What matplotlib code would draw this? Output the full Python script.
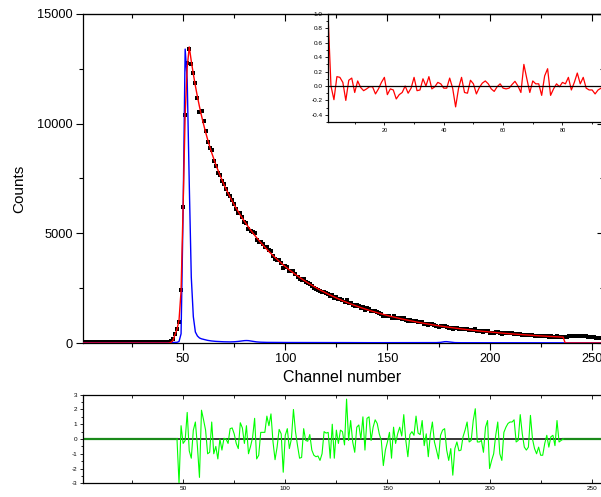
import matplotlib.pyplot as plt
from matplotlib.ticker import MultipleLocator, FormatStrFormatter

plt.rcParams['font.family'] = ['Liberation Sans', 'DejaVu Sans']
plt.rcParams['axes.unicode_minus'] = False

# decay histogram, one value per channel
channels = list(range(1, 257))

counts = [
    32, 41, 28, 37, 45, 30, 36, 27, 40, 34,
    29, 43, 35, 31, 38, 26, 42, 33, 37, 30,
    44, 29, 36, 39, 31, 27, 41, 35, 33, 46,
    30, 38, 28, 40, 34, 37, 43, 31, 36, 45,
    39, 48,
    58, 88, 175, 420, 620, 950, 2424, 6196, 10400, 12752,
    13407, 12706, 12332, 11851, 11180, 10510, 10560, 10104, 9672, 9182,
    8879, 8777, 8302, 8088, 7767, 7655, 7369, 7227, 7022, 6806,
    6704, 6532, 6331, 6118, 5934, 5918, 5744, 5526, 5480, 5210,
    5120, 5040, 5011, 4705, 4611, 4608, 4501, 4399, 4370, 4232,
    4187, 3974, 3811, 3777, 3766, 3664, 3427, 3500, 3450, 3297,
    3263, 3303, 3150, 3031, 2919, 2860, 2903, 2800, 2738, 2705,
    2595, 2521, 2464, 2415, 2349, 2322, 2346, 2294, 2249, 2122,
    2184, 2035, 2080, 1998, 1996, 1953, 1875, 1971, 1814, 1835,
    1739, 1676, 1712, 1685, 1613, 1642, 1523, 1576, 1551, 1459,
    1465, 1456, 1419, 1366, 1324, 1237, 1250, 1246, 1246, 1161,
    1211, 1152, 1152, 1144, 1109, 1131, 1054, 1000, 1029, 1013,
    991, 1010, 956, 939, 948, 880, 887, 826, 856, 863,
    809, 779, 747, 778, 775, 763, 711, 679, 687, 628,
    663, 662, 634, 625, 636, 636, 639, 594, 586, 608,
    617, 553, 543, 536, 508, 537, 539, 457, 460, 462,
    481, 492, 438, 421, 452, 452, 450, 443, 436, 431,
    395, 390, 418, 385, 362, 351, 350, 383, 347, 329,
    317, 319, 304, 299, 307, 311, 294, 300, 296, 279,
    303, 274, 271, 268,
    272, 289, 306, 322, 334, 341, 336, 331, 318, 312,
    298, 292, 279, 266, 257, 244, 236, 223, 216, 204,
]

fit_curve = [0] * 43 + [
    30, 110, 380, 620, 1045, 2380, 6220, 10410, 12550,
    13500, 12853, 12265, 11727, 11233, 10780, 10361, 9974, 9613, 9278,
    8964, 8670, 8394, 8133, 7887, 7655, 7433, 7223, 7022, 6831,
    6647, 6472, 6303, 6141, 5984, 5834, 5688, 5548, 5413, 5283,
    5156, 5033, 4913, 4798, 4686, 4577, 4471, 4369, 4269, 4173,
    4078, 3987, 3898, 3811, 3726, 3643, 3562, 3485, 3409, 3335,
    3263, 3191, 3122, 3056, 2990, 2927, 2865, 2805, 2746, 2689,
    2633, 2577, 2524, 2472, 2420, 2371, 2322, 2275, 2228, 2183,
    2138, 2095, 2053, 2011, 1970, 1931, 1893, 1855, 1818, 1782,
    1747, 1713, 1679, 1646, 1613, 1582, 1552, 1521, 1492, 1463,
    1435, 1407, 1380, 1353, 1328, 1302, 1277, 1253, 1230, 1206,
    1184, 1162, 1140, 1118, 1097, 1077, 1057, 1038, 1018, 999,
    980, 962, 945, 928, 910, 893, 877, 861, 846, 830,
    815, 800, 785, 771, 758, 744, 731, 718, 705, 692,
    680, 667, 655, 644, 632, 621, 610, 599, 588, 578,
    568, 558, 548, 538, 529, 519, 510, 501, 492, 484,
    475, 467, 459, 451, 443, 435, 428, 420, 413, 405,
    399, 392, 385, 378, 372, 365, 360, 353, 347, 341,
    335, 329, 324, 319, 312, 307, 303, 297, 292, 287,
    282, 277, 273, 268,
] + [0] * 20

# instrument response (prompt)
irf = [
    8, 5, 10, 6, 12, 7, 4, 9, 11, 6,
    8, 5, 10, 7, 9, 6, 12, 8, 5, 7,
    10, 6, 9, 11, 7, 5, 8, 10, 6, 9,
    7, 12, 8, 6, 10, 7, 9, 5, 11, 8,
    7, 10, 9, 12, 15, 22,
    30, 70, 420, 6000, 13400, 12000, 7300, 3000, 1200, 500,
    320, 230, 190, 165, 140, 120, 105, 92, 82, 74,
    68, 62, 58, 55, 52, 50, 50, 52, 56, 62,
    72, 85, 98, 108, 112, 108, 95, 78, 62, 50,
    42, 36, 32, 30, 28, 27, 26, 25, 25, 24,
    24, 23, 24, 22, 23, 22, 22, 21, 22, 21,
    21, 20, 21, 20, 20, 21, 19, 20, 19, 20,
    19, 19, 18, 19, 18, 19, 18, 18, 17, 18,
    17, 18, 17, 17, 18, 16, 17, 17, 16, 17,
    16, 16, 17, 16, 15, 16, 16, 15, 16, 15,
    15, 16, 15, 15, 14, 15, 15, 14, 15, 14,
    14, 15, 14, 14, 13, 14, 14, 13, 14, 13,
    13, 14, 13, 13, 14, 15, 16, 18, 22,
    30, 45, 60, 62, 50, 35, 24,
    18, 15, 14, 13, 13, 12, 13, 12, 12, 13,
    12, 11, 12, 12, 11, 12, 11, 11, 12, 11,
    11, 10, 11, 11, 10, 11, 10, 10, 11, 10,
    10, 11, 10, 10, 9, 10, 10, 9, 10, 9,
    9, 10, 9, 9, 10, 9, 9, 8, 9, 9,
    8, 9, 9, 8, 9, 8, 8, 9, 8, 8,
    8, 9, 8, 8, 7, 8, 8, 7, 8, 7,
    7, 8, 7, 7,
]

# weighted residuals over the fit range
res_channels = list(range(47, 237))
residuals = [
    0.0, -3.0, 0.9, -0.3, -0.1, 1.8, -0.8, -1.3, 0.6, 1.15,
    -0.5, -2.6, 1.95, 1.3, 0.6, -1.0, -0.9, 1.15, -1.0, -0.5,
    -1.35, 0.0, -0.75, 0.05, 0.0, -0.3, 0.7, 0.75, 0.35, -0.3,
    -0.65, 1.1, 0.75, -0.3, 0.9, -1.0, -0.5, 0.1, 1.4, -1.35,
    -1.1, 0.45, 0.45, 0.45, 1.55, 0.9, 1.7, -0.2, -1.4, -0.55,
    0.65, 0.35, -2.25, 0.25, 0.7, -0.65, 0.0, 2.0, 0.5, -0.45,
    -1.3, -1.25, 0.7, -0.1, -0.15, 0.3, -0.75, -1.1, -1.2, -1.15,
    -1.45, -1.0, 0.5, 0.4, 0.45, -1.3, 1.0, -1.3, 0.6, -0.3,
    0.6, 0.5, -0.4, 2.7, -0.1, 1.25, -0.2, -0.9, 0.8, 0.95,
    0.0, 1.5, -0.75, 1.4, 1.5, -0.1, 0.8, 1.3, 1.05, 0.35,
    -0.1, -1.8, -0.75, -0.2, 0.45, -1.3, 0.8, -0.3, 0.35, 0.8,
    0.2, 1.65, -0.1, -1.2, 0.3, 0.5, 0.25, 1.55, 0.4, 0.3,
    1.25, -0.45, 0.35, -1.2, 0.3, 1.15, -0.2, -0.75, -1.35, 0.25,
    0.6, 0.7, -0.75, -1.45, -0.65, -2.45, -0.65, -0.2, -0.8, -0.75,
    0.15, 0.6, 1.15, -0.2, -0.1, 1.25, 2.05, -0.2, -0.2, -0.1,
    -0.9, 0.8, 1.25, -2.0, -1.45, -1.0, 0.25, 1.15, -1.0, -1.45,
    0.45, 0.8, 1.05, 1.15, 1.15, 1.3, -0.2, -0.1, 1.65, 0.35,
    -0.55, -0.75, -0.55, 1.6, 0.0, -0.65, -1.0, -0.55, -1.1, -1.1,
    -0.3, 0.25, -0.55, 0.15, 0.25, -0.45, 1.25, -0.2, -0.1, 0.0,
]

# autocorrelation of the residuals
lag = list(range(1, 94))
autocorr = [
    1.0, 0.0, -0.19, 0.13, 0.12, 0.05, -0.2, 0.08, 0.11, -0.09,
    0.07, -0.02, -0.065, -0.04, -0.01, -0.01, -0.11, -0.04, 0.05, 0.12,
    -0.12, -0.04, -0.055, -0.18, -0.12, -0.09, 0.0, -0.1, -0.03, 0.12,
    -0.065, -0.055, 0.1, 0.0, 0.13, -0.04, -0.01, 0.05, 0.03, -0.03,
    -0.03, 0.11, -0.03, -0.29, -0.03, 0.12, -0.09, -0.1, 0.08, 0.03,
    -0.11, -0.02, 0.04, 0.07, 0.03, -0.04, -0.075, -0.01, 0.03, -0.03,
    -0.04, -0.03, 0.02, 0.065, 0.0, -0.09, 0.30, 0.1, -0.09, 0.07,
    0.03, 0.03, -0.13, 0.14, 0.24, -0.13, -0.04, 0.03, -0.01, 0.05,
    0.03, 0.12, -0.055, 0.05, 0.18, 0.03, 0.12, -0.03, -0.055, -0.055,
    -0.11, -0.055, -0.03,
]

W, H = 601, 497


def box(left, top, right, bottom):
    return [left / W, 1 - bottom / H, (right - left) / W, (bottom - top) / H]


fig = plt.figure(figsize=(W / 100, H / 100), dpi=100)
ax = fig.add_axes(box(83, 14, 604, 343))
ins = fig.add_axes(box(328, 14, 604, 122))
res = fig.add_axes(box(83, 394.7, 604, 483.3))

# main axes sit above the inset so their ticks show through
ax.set_zorder(3)
ax.patch.set_visible(False)
ins.set_zorder(2)

# --- decay curve ---
ax.plot(channels, counts, 's', color='black', ms=2.2, mew=0, zorder=2)
ax.plot(channels, irf, color='blue', lw=1.0, zorder=3)
ax.plot(channels, fit_curve, color='red', lw=1.0, zorder=4)
ax.set_xlim(1, 256)
ax.set_ylim(0, 15000)
ax.set_xticks([50, 100, 150, 200, 250])
ax.set_yticks([0, 5000, 10000, 15000])
ax.xaxis.set_minor_locator(MultipleLocator(25))
ax.yaxis.set_minor_locator(MultipleLocator(2500))
ax.tick_params(which='major', direction='out', length=5, width=0.8,
               labelsize=9.2, pad=2.5)
ax.tick_params(which='minor', direction='out', length=3, width=0.8)
for s in ax.spines.values():
    s.set_linewidth(0.9)

top = ax.secondary_xaxis('top')
top.set_xticks([50, 100, 150, 200, 250])
top.xaxis.set_minor_locator(MultipleLocator(25))
top.tick_params(which='major', direction='in', length=5, width=0.8,
                labeltop=False)
top.tick_params(which='minor', direction='in', length=3, width=0.8)
right = ax.secondary_yaxis('right')
right.set_yticks([0, 5000, 10000, 15000])
right.yaxis.set_minor_locator(MultipleLocator(2500))
right.tick_params(which='major', direction='in', length=5, width=0.8,
                  labelright=False)
right.tick_params(which='minor', direction='in', length=3, width=0.8)

fig.text(19 / W, 1 - 189 / H, 'Counts', rotation=90, fontsize=11,
         ha='center', va='center')
fig.text(342.5 / W, 1 - 377 / H, 'Channel number', fontsize=11.5,
         ha='center', va='center')

# --- autocorrelation inset ---
ins.plot(lag, autocorr, color='red', lw=0.9)
ins.axhline(0, color='black', lw=0.9)
ins.set_xlim(1, 94)
ins.set_ylim(-0.5, 1.0)
ins.set_xticks([20, 40, 60, 80])
ins.set_yticks([-0.4, -0.2, 0.0, 0.2, 0.4, 0.6, 0.8, 1.0])
ins.xaxis.set_minor_locator(MultipleLocator(10))
ins.yaxis.set_minor_locator(MultipleLocator(0.1))
ins.yaxis.set_major_formatter(FormatStrFormatter('%.1f'))
ins.tick_params(axis='y', which='major', direction='out', length=2.5,
                width=0.6, labelsize=4.6, pad=1.5)
ins.tick_params(axis='x', which='major', direction='out', length=2.5,
                width=0.6, labelsize=4.0, pad=1.5)
ins.tick_params(which='minor', direction='out', length=1.5, width=0.6)
for s in ins.spines.values():
    s.set_linewidth(0.9)

# --- residuals ---
res.axhline(0, color='black', lw=1.1, zorder=1)
res.plot([1, 47], [0, 0], color='#1a8a1a', lw=1.6, zorder=2)
res.plot([236, 256], [0, 0], color='#1a8a1a', lw=1.6, zorder=2)
res.plot(res_channels, residuals, color='#00ff00', lw=0.8, zorder=3)
res.set_xlim(1, 256)
res.set_ylim(-3, 3)
res.set_xticks([50, 100, 150, 200, 250])
res.set_yticks([-3, -2, -1, 0, 1, 2, 3])
res.xaxis.set_minor_locator(MultipleLocator(25))
res.yaxis.set_minor_locator(MultipleLocator(0.5))
res.tick_params(axis='x', which='both', direction='in', top=True,
                labelsize=4.6, pad=2)
res.tick_params(axis='x', which='major', length=3, width=0.6)
res.tick_params(axis='x', which='minor', length=2, width=0.6)
res.tick_params(axis='y', which='major', direction='out', length=2.5,
                width=0.6, labelsize=4.6, pad=1.5)
res.tick_params(axis='y', which='minor', direction='out', length=1.5,
                width=0.6)
for s in res.spines.values():
    s.set_linewidth(0.9)

fig.savefig('out.png', dpi=100)
